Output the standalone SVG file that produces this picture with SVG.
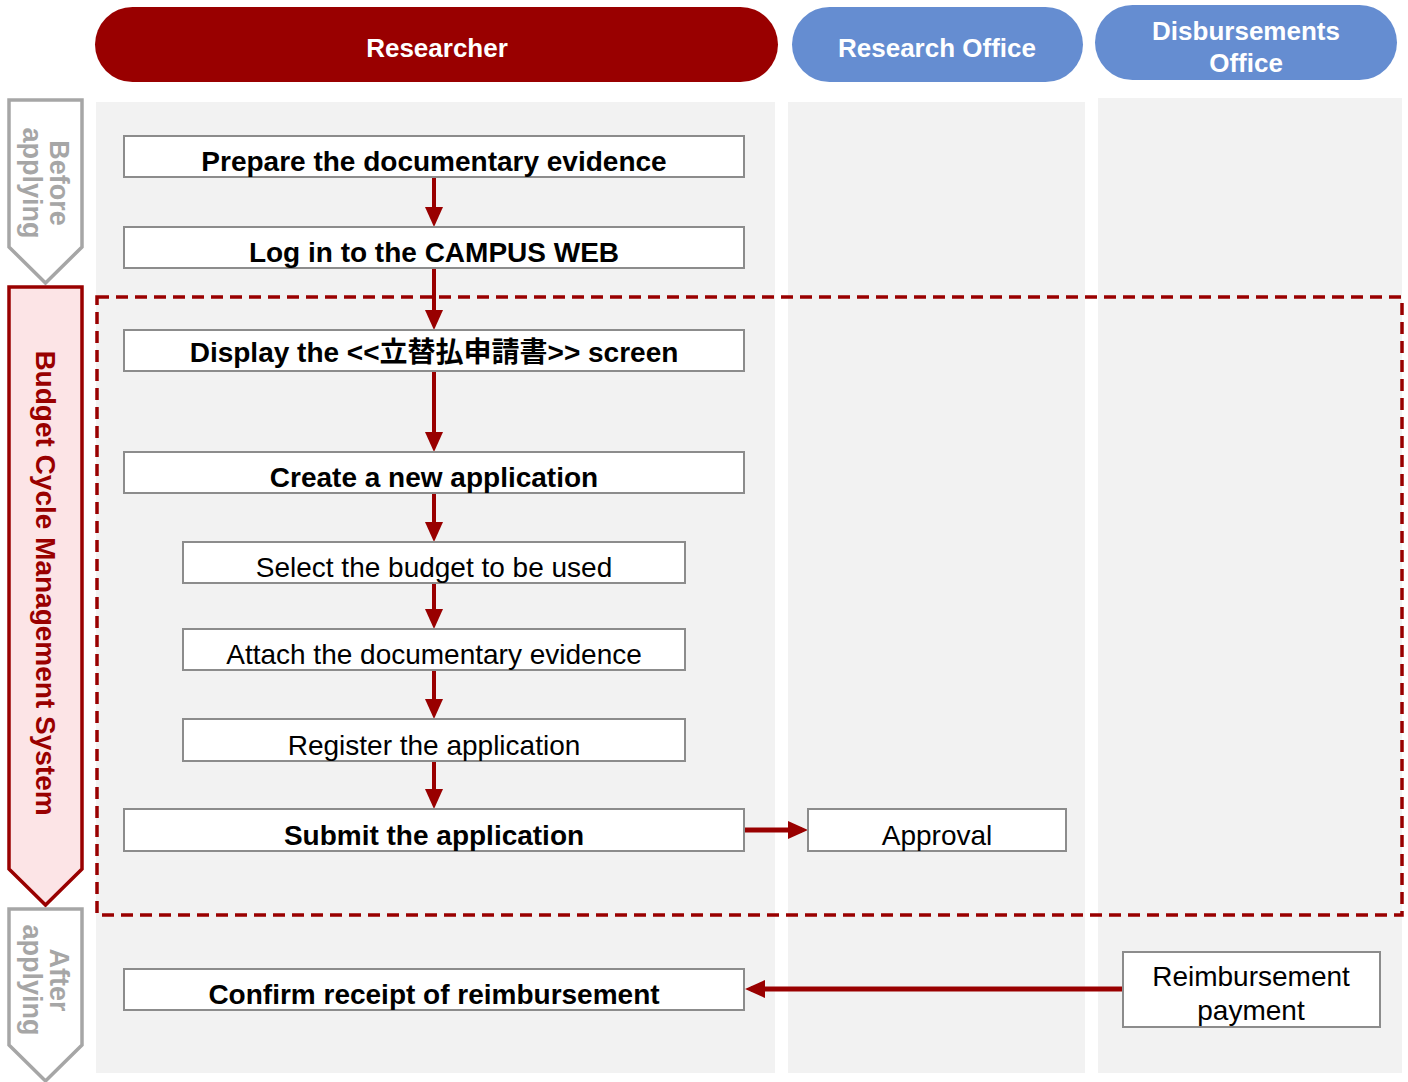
<svg xmlns="http://www.w3.org/2000/svg" width="1408" height="1082" viewBox="0 0 1408 1082">
<style>
text{font-family:"Liberation Sans","Noto Sans CJK JP",Arial,sans-serif;}
.lane{fill:#F2F2F2;}
.hdr{fill:#FFFFFF;font-size:26px;font-weight:bold;text-anchor:middle;}
.box{fill:#FFFFFF;stroke:#8C8C8C;stroke-width:2;}
.t{font-size:28px;fill:#000;text-anchor:middle;}
.b{font-weight:bold;}
.side{font-size:27px;font-weight:bold;text-anchor:middle;}
.conn{fill:none;stroke:#990000;stroke-width:4;marker-end:url(#ah);}
.connh{fill:none;stroke:#990000;stroke-width:5;marker-end:url(#ah);}
</style>
<defs>
<marker id="ah" viewBox="0 0 20 18" markerWidth="20" markerHeight="18" refX="14" refY="9" markerUnits="userSpaceOnUse" orient="auto">
<path d="M0,0 L20,9 L0,18 z" fill="#990000"/>
</marker>
</defs>
<rect width="1408" height="1082" fill="#FFFFFF"/>
<g id="lanes">
<rect class="lane" x="96" y="102" width="679" height="971"/>
<rect class="lane" x="788" y="102" width="297" height="971"/>
<rect class="lane" x="1098" y="98" width="304" height="975"/>
</g>
<g id="header-researcher">
<rect x="95" y="7" width="683" height="75" rx="37.5" fill="#990000"/>
<text class="hdr" x="437" y="57">Researcher</text>
</g>
<g id="header-research-office">
<rect x="792" y="7" width="291" height="75" rx="37.5" fill="#658DD1"/>
<text class="hdr" x="937" y="57">Research Office</text>
</g>
<g id="header-disbursements">
<rect x="1095" y="5" width="302" height="75" rx="37.5" fill="#658DD1"/>
<text class="hdr" x="1246" y="40">Disbursements</text>
<text class="hdr" x="1246" y="72">Office</text>
</g>
<g id="phase-before">
<path d="M9,100 H82 V247 L45.5,283 L9,247 Z" fill="#FFFFFF" stroke="#A6A6A6" stroke-width="3.5"/>
<g transform="translate(45,183) rotate(90)" fill="#A6A6A6">
<text class="side" x="0" y="-5">Before</text>
<text class="side" x="0" y="22">applying</text>
</g>
</g>
<g id="phase-budget">
<path d="M9,287 H82 V869 L45.5,905 L9,869 Z" fill="#FCE4E6" stroke="#990000" stroke-width="3.5"/>
<text class="side" transform="translate(36,583) rotate(90)" x="0" y="0" fill="#990000" style="font-size:28px">Budget Cycle Management System</text>
</g>
<g id="phase-after">
<path d="M9,909 H82 V1045 L45.5,1081 L9,1045 Z" fill="#FFFFFF" stroke="#A6A6A6" stroke-width="3.5"/>
<g transform="translate(45,980) rotate(90)" fill="#A6A6A6">
<text class="side" x="0" y="-5">After</text>
<text class="side" x="0" y="22">applying</text>
</g>
</g>
<rect id="system-boundary" x="97" y="297" width="1305" height="618" fill="none" stroke="#990000" stroke-width="3.5" stroke-dasharray="12 7"/>
<g id="connectors">
<path class="conn" d="M434,177 V221"/>
<path class="conn" d="M434,268 V324"/>
<path class="conn" d="M434,371 V446"/>
<path class="conn" d="M434,493 V536"/>
<path class="conn" d="M434,583 V623"/>
<path class="conn" d="M434,670 V713"/>
<path class="conn" d="M434,761 V803"/>
<path class="connh" d="M744,830 H802"/>
<path class="connh" d="M1123,989 H751"/>
</g>
<g id="n-prepare">
<rect class="box" x="124" y="136" width="620" height="41"/>
<text class="t b" x="434" y="171">Prepare the documentary evidence</text>
</g>
<g id="n-login">
<rect class="box" x="124" y="227" width="620" height="41"/>
<text class="t b" x="434" y="262">Log in to the CAMPUS WEB</text>
</g>
<g id="n-display">
<rect class="box" x="124" y="330" width="620" height="41"/>
<text class="t b" x="434" y="362">Display the &lt;&lt;立替払申請書&gt;&gt; screen</text>
</g>
<g id="n-create">
<rect class="box" x="124" y="452" width="620" height="41"/>
<text class="t b" x="434" y="487">Create a new application</text>
</g>
<g id="n-select">
<rect class="box" x="183" y="542" width="502" height="41"/>
<text class="t" x="434" y="577">Select the budget to be used</text>
</g>
<g id="n-attach">
<rect class="box" x="183" y="629" width="502" height="41"/>
<text class="t" x="434" y="664">Attach the documentary evidence</text>
</g>
<g id="n-register">
<rect class="box" x="183" y="719" width="502" height="42"/>
<text class="t" x="434" y="755">Register the application</text>
</g>
<g id="n-submit">
<rect class="box" x="124" y="809" width="620" height="42"/>
<text class="t b" x="434" y="845">Submit the application</text>
</g>
<g id="n-approval">
<rect class="box" x="808" y="809" width="258" height="42"/>
<text class="t" x="937" y="845">Approval</text>
</g>
<g id="n-confirm">
<rect class="box" x="124" y="969" width="620" height="41"/>
<text class="t b" x="434" y="1004">Confirm receipt of reimbursement</text>
</g>
<g id="n-reimbursement">
<rect class="box" x="1123" y="952" width="257" height="75"/>
<text class="t" x="1251" y="986">Reimbursement</text>
<text class="t" x="1251" y="1020">payment</text>
</g>
</svg>
